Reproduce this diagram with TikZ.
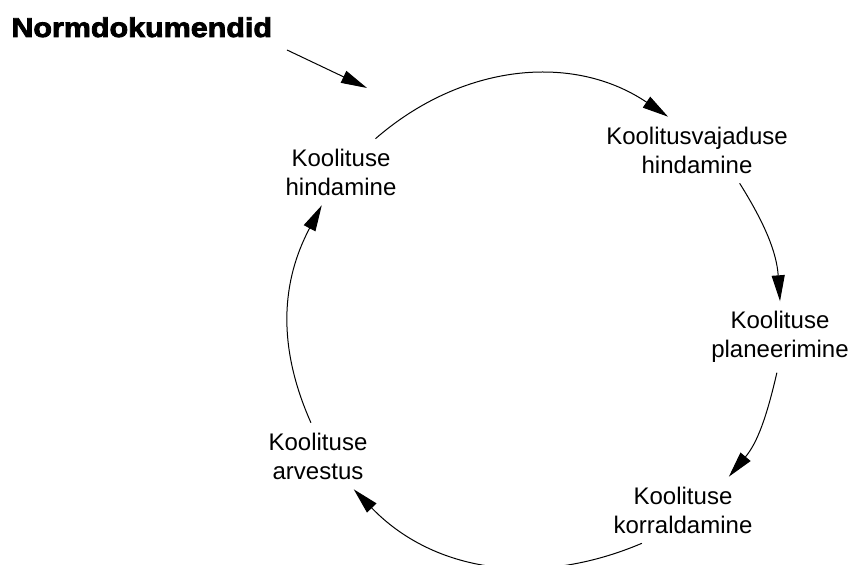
\documentclass[tikz,border=0pt]{standalone}
\usepackage{fontspec}
\setmainfont{Liberation Sans}
\newfontfamily\titlefont{Liberation Sans}[BoldFeatures={FakeBold=3,FakeStretch=1.12}]
\usetikzlibrary{arrows.meta}

\begin{document}
\begin{tikzpicture}[x=0.5pt, y=0.5pt,
  stage/.style={align=center, font=\fontsize{12}{14.5}\selectfont, inner sep=3pt, outer sep=2pt},
  flow/.style={-{Triangle[length=13pt, width=6.5pt]}, line width=0.5pt}]

\useasboundingbox (0, 0) rectangle (850, 565);

\node[anchor=base west, inner sep=0pt, font=\titlefont\bfseries\fontsize{13.6}{16}\selectfont] (norm) at (11, 528) {Normdokumendid};

\node[stage] (hind) at (341, 393) {Koolituse\\hindamine};

\node[stage] (vaj) at (697, 415) {Koolitusvajaduse\\hindamine};

\node[stage] (plan) at (780, 228) {Koolituse\\planeerimine};

\node[stage] (korr) at (683, 55) {Koolituse\\korraldamine};

\node[stage] (arv) at (318, 109) {Koolituse\\arvestus};

\coordinate (in) at (287, 515);
\coordinate (inend) at (367, 477);

\draw[flow] (in) -- (inend);

\draw[flow] (hind.44) to[out=41, in=146] (vaj.131);

\draw[flow] (vaj.-38) to[out=-58, in=94] (plan.90);

\draw[flow] (plan.265) to[out=-103, in=50] (korr.36);

\draw[flow] (korr.219) to[out=-157, in=-46] (arv.317);

\draw[flow] (arv.102) to[out=114, in=-118] (hind.240);

\end{tikzpicture}
\end{document}
